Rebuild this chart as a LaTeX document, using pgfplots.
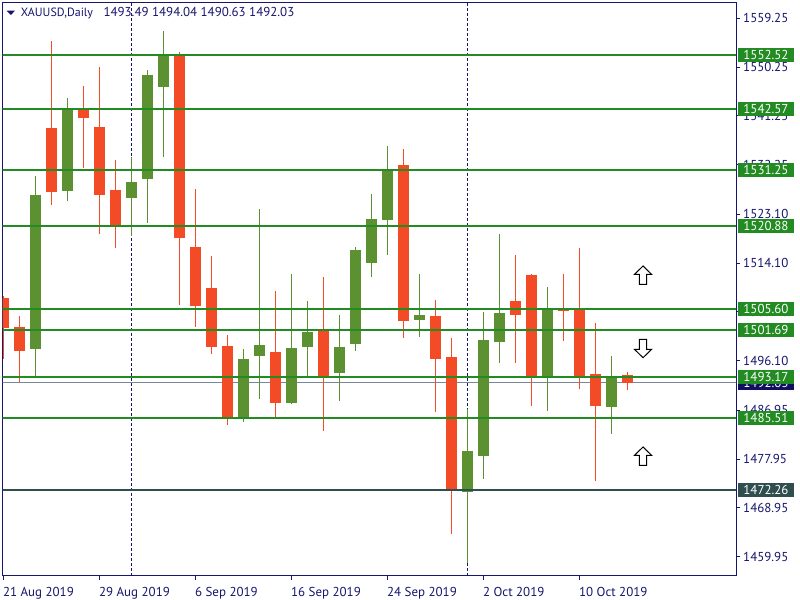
\documentclass[border=0pt]{standalone}
\usepackage{pgfplots}
\pgfplotsset{compat=1.18}
\usepackage{pgfplotstable}
\usepackage{fontspec}
\setmainfont{PT Sans}
\definecolor{cred}{RGB}{243,75,37}
\definecolor{cgreen}{RGB}{92,145,50}
\definecolor{lgreen}{RGB}{34,139,34}
\definecolor{dslate}{RGB}{47,79,79}
\definecolor{cnavy}{RGB}{22,22,110}
\definecolor{bidgray}{RGB}{119,136,153}
\definecolor{boxnavy}{RGB}{16,16,96}
\newcommand\fs{\fontsize{13}{15}\selectfont}
\newcommand\ft{\fontsize{12}{14}\selectfont}

% x open high low close
\pgfplotstableread{
x open high low close
0 1507.72 1508.03 1496.47 1502.19
1 1502.32 1504.34 1492.23 1497.94
3 1539.07 1555.06 1524.87 1527.27
5 1542.58 1546.76 1531.70 1540.92
6 1539.20 1550.27 1519.52 1526.72
7 1527.58 1533.12 1516.94 1520.81
11 1552.35 1552.98 1506.43 1518.79
12 1517.07 1527.77 1502.37 1506.24
13 1509.51 1515.41 1497.39 1498.68
14 1498.81 1500.84 1484.30 1485.66
17 1497.70 1509.01 1485.66 1488.35
20 1501.58 1511.54 1483.19 1493.04
25 1532.19 1535.14 1500.34 1503.48
27 1504.34 1507.29 1486.69 1496.41
28 1496.78 1500.34 1464.14 1472.12
32 1507.11 1515.59 1495.73 1504.58
33 1511.91 1512.09 1487.74 1493.15
35 1505.63 1512.09 1499.79 1505.26
36 1505.45 1516.89 1490.83 1493.33
37 1493.65 1503.00 1473.86 1487.80
39 1493.49 1494.04 1490.63 1492.03
}\bear

\pgfplotstableread{
x open high low close
2 1498.31 1530.16 1493.28 1526.66
4 1527.45 1544.55 1525.55 1542.58
8 1526.16 1533.67 1519.15 1529.06
9 1529.61 1549.71 1521.55 1548.79
10 1546.63 1556.91 1533.72 1552.67
15 1485.66 1498.26 1484.85 1496.41
16 1497.02 1524.08 1489.04 1499.00
18 1488.35 1512.09 1488.10 1498.50
19 1498.68 1507.11 1493.28 1501.45
21 1493.89 1504.53 1488.67 1498.68
22 1499.24 1517.13 1497.94 1516.52
23 1514.17 1526.84 1511.59 1522.23
24 1522.10 1535.70 1515.65 1531.27
26 1503.66 1512.09 1500.53 1504.53
29 1471.88 1487.19 1458.84 1479.45
30 1478.58 1505.08 1474.28 1499.92
31 1499.60 1519.47 1495.73 1504.90
34 1493.15 1509.69 1486.88 1505.45
38 1487.51 1496.97 1482.64 1492.96
}\bull

\begin{document}
\begin{tikzpicture}
\useasboundingbox (0bp,0bp) rectangle (800bp,600bp);
\fill[white] (0bp,0bp) rectangle (800bp,600bp);
\begin{axis}[
  at={(2.7bp,24bp)}, anchor=south west,
  scale only axis, width=733.3bp, height=573.7bp,
  xmin=-0.05, xmax=45.78, ymin=1456.39, ymax=1562.20,
  axis line style={draw=cnavy, line width=1bp},
  xtick={0,6,12,18,24,30,36},
  xticklabels={21 Aug 2019,29 Aug 2019,6 Sep 2019,16 Sep 2019,24 Sep 2019,2 Oct 2019,10 Oct 2019},
  xtick pos=bottom, ytick pos=right,
  tick align=outside, major tick length=4bp,
  tick style={draw=cnavy, line width=1bp},
  ytick={1559.25,1550.25,1541.25,1532.25,1523.10,1514.10,1505.10,1496.10,1486.95,1477.95,1468.95,1459.95},
  yticklabels={1559.25,1550.25,1541.25,1532.25,1523.10,1514.10,1505.10,1496.10,1486.95,1477.95,1468.95,1459.95},
  yticklabel pos=right,
  xticklabel style={anchor=base west, inner sep=0pt, yshift=-16.3bp, xshift=-0.6bp, font=\fs, text=cnavy},
  yticklabel style={anchor=west, inner sep=0pt, xshift=3bp, font=\fs, text=cnavy},
  every axis plot/.append style={forget plot},
]
% period separators
\addplot[cnavy, line width=1bp, dash pattern=on 3bp off 2bp] coordinates {(8,1450) (8,1570)};
\addplot[cnavy, line width=1bp, dash pattern=on 3bp off 2bp] coordinates {(29,1450) (29,1570)};
% bid line
\addplot[bidgray, line width=1bp] coordinates {(-1,1492.03) (50,1492.03)};
% wicks
\addplot[draw=none, mark=none, error bars/.cd, y dir=plus, y explicit, error mark=none,
  error bar style={line width=1bp, draw=cred}]
  table[x=x, y=low, y error expr=\thisrow{high}-\thisrow{low}] {\bear};
\addplot[draw=none, mark=none, error bars/.cd, y dir=plus, y explicit, error mark=none,
  error bar style={line width=1bp, draw=cgreen}]
  table[x=x, y=low, y error expr=\thisrow{high}-\thisrow{low}] {\bull};
% bodies
\addplot[draw=none, mark=none, error bars/.cd, y dir=plus, y explicit, error mark=none,
  error bar style={line width=11bp, draw=cred}]
  table[x=x, y=close, y error expr=\thisrow{open}-\thisrow{close}] {\bear};
\addplot[draw=none, mark=none, error bars/.cd, y dir=plus, y explicit, error mark=none,
  error bar style={line width=11bp, draw=cgreen}]
  table[x=x, y=open, y error expr=\thisrow{close}-\thisrow{open}] {\bull};
% levels
\addplot[lgreen, line width=2bp] coordinates {(-1,1552.52) (50,1552.52)};
\addplot[lgreen, line width=2bp] coordinates {(-1,1542.57) (50,1542.57)};
\addplot[lgreen, line width=2bp] coordinates {(-1,1531.25) (50,1531.25)};
\addplot[lgreen, line width=2bp] coordinates {(-1,1520.88) (50,1520.88)};
\addplot[lgreen, line width=2bp] coordinates {(-1,1505.60) (50,1505.60)};
\addplot[lgreen, line width=2bp] coordinates {(-1,1501.69) (50,1501.69)};
\addplot[lgreen, line width=2bp] coordinates {(-1,1493.17) (50,1493.17)};
\addplot[lgreen, line width=2bp] coordinates {(-1,1485.51) (50,1485.51)};
\addplot[dslate, line width=2bp] coordinates {(-1,1472.26) (50,1472.26)};
% anchors for labels / arrows
\path (axis cs:45.78,1552.52) coordinate (l1)
      (axis cs:45.78,1542.57) coordinate (l2)
      (axis cs:45.78,1531.25) coordinate (l3)
      (axis cs:45.78,1520.88) coordinate (l4)
      (axis cs:45.78,1505.60) coordinate (l5)
      (axis cs:45.78,1501.69) coordinate (l6)
      (axis cs:45.78,1493.17) coordinate (l7)
      (axis cs:45.78,1485.51) coordinate (l8)
      (axis cs:45.78,1472.26) coordinate (l9)
      (axis cs:45.78,1492.03) coordinate (lb)
      (axis cs:39.97,1511.87) coordinate (a1)
      (axis cs:39.97,1498.35) coordinate (a2)
      (axis cs:39.97,1478.49) coordinate (a3);
\end{axis}
% price labels
\tikzset{pl/.style={anchor=west, xshift=1.5bp, inner sep=0pt, minimum width=56.5bp, minimum height=14bp, text=white, font=\fs}}
\node[pl, fill=boxnavy] at (lb) {1492.03};
\node[pl, fill=lgreen] at (l1) {1552.52};
\node[pl, fill=lgreen] at (l2) {1542.57};
\node[pl, fill=lgreen] at (l3) {1531.25};
\node[pl, fill=lgreen] at (l4) {1520.88};
\node[pl, fill=lgreen] at (l5) {1505.60};
\node[pl, fill=lgreen] at (l6) {1501.69};
\node[pl, fill=lgreen] at (l7) {1493.17};
\node[pl, fill=lgreen] at (l8) {1485.51};
\node[pl, fill=dslate] at (l9) {1472.26};
% arrows
\tikzset{uparr/.pic={\draw[black, fill=white, line width=1bp, line join=miter]
  (0bp,9.2bp) -- (8.5bp,0.9bp) -- (3.7bp,0.9bp) -- (3.7bp,-9.1bp) -- (-3.7bp,-9.1bp) -- (-3.7bp,0.9bp) -- (-8.5bp,0.9bp) -- cycle;}}
\tikzset{dnarr/.pic={\draw[black, fill=white, line width=1bp, line join=miter]
  (0bp,-9.2bp) -- (8.5bp,-0.9bp) -- (3.7bp,-0.9bp) -- (3.7bp,9.1bp) -- (-3.7bp,9.1bp) -- (-3.7bp,-0.9bp) -- (-8.5bp,-0.9bp) -- cycle;}}
\pic at (a1) {uparr};
\pic at (a2) {dnarr};
\pic at (a3) {uparr};
% title
\fill[cnavy] (6.7bp,589.3bp) -- (15bp,589.3bp) -- (10.85bp,585bp) -- cycle;
\node[anchor=base west, inner sep=0pt, text=cnavy, font=\ft] at (20.7bp,583.3bp) {XAUUSD,Daily};
\node[anchor=base west, inner sep=0pt, text=cnavy, font=\fs] at (103.3bp,583.3bp) {1493.49 1494.04 1490.63 1492.03};
\end{tikzpicture}
\end{document}
